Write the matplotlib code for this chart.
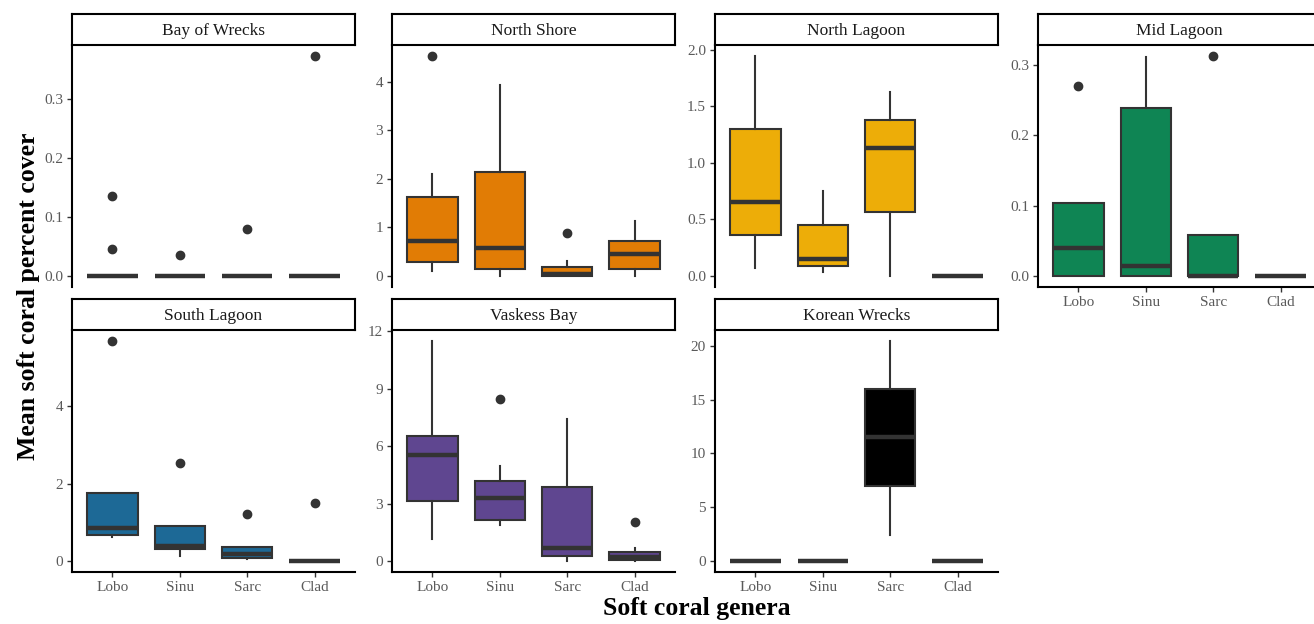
import numpy as np
import matplotlib
matplotlib.use("Agg")
import matplotlib.pyplot as plt

plt.rcParams['font.family'] = ['Liberation Serif', 'DejaVu Serif']

genera = ["Lobo", "Sinu", "Sarc", "Clad"]
sites = ["Bay of Wrecks", "North Shore", "North Lagoon", "Mid Lagoon",
         "South Lagoon", "Vaskess Bay", "Korean Wrecks"]
site_colors = ["#CC503E", "#E17C05", "#EDAD08", "#0F8554",
               "#1D6996", "#5F4690", "#000000"]

# box statistics: one row per site, one column per genus
q1 = [[0, 0, 0, 0],
      [0.28, 0.14, 0.0, 0.14],
      [0.36, 0.087, 0.567, 0],
      [0, 0, 0, 0],
      [0.68, 0.32, 0.087, 0],
      [3.12, 2.15, 0.26, 0.04],
      [0, 0, 6.96, 0]]
median = [[0, 0, 0, 0],
          [0.73, 0.57, 0.04, 0.45],
          [0.657, 0.147, 1.134, 0],
          [0.040, 0.0144, 0, 0],
          [0.84, 0.39, 0.17, 0],
          [5.52, 3.30, 0.67, 0.23],
          [0, 0, 11.5, 0]]
q3 = [[0, 0, 0, 0],
      [1.63, 2.15, 0.19, 0.73],
      [1.30, 0.45, 1.38, 0],
      [0.104, 0.239, 0.0584, 0],
      [1.76, 0.91, 0.365, 0],
      [6.52, 4.18, 3.88, 0.49],
      [0, 0, 15.99, 0]]
whisker_low = [[0, 0, 0, 0],
               [0.10, 0.0, 0.0, 0.01],
               [0.07, 0.036, 0.0, 0],
               [0, 0, 0, 0],
               [0.63, 0.13, 0.06, 0],
               [1.15, 1.89, 0.0, 0.0],
               [0, 0, 2.45, 0]]
whisker_high = [[0, 0, 0, 0],
                [2.09, 3.93, 0.30, 1.13],
                [1.946, 0.75, 1.624, 0],
                [0.104, 0.312, 0.0584, 0],
                [1.76, 0.91, 0.365, 0],
                [11.5, 4.94, 7.44, 0.70],
                [0, 0, 20.45, 0]]
outliers = [[[0.136, 0.045], [0.035], [0.08], [0.373]],
            [[4.53], [], [0.89], []],
            [[], [], [], []],
            [[0.27], [], [0.313], []],
            [[5.68], [2.52], [1.22], [1.50]],
            [[], [8.47], [], [2.06]],
            [[], [], [], []]]
y_ticks = [[0, 0.1, 0.2, 0.3],
           [0, 1, 2, 3, 4],
           [0, 0.5, 1.0, 1.5, 2.0],
           [0, 0.1, 0.2, 0.3],
           [0, 2, 4],
           [0, 3, 6, 9, 12],
           [0, 5, 10, 15, 20]]
y_decimals = [1, 0, 1, 1, 0, 0, 0]

W, H = 1314, 624
fig = plt.figure(figsize=(W / 100, H / 100), dpi=100)

col_left = [72, 392, 715, 1038]
panel_w = 283
panel_h = 242
row_top = [45, 330]
strip_h = 31
line_c = "#333333"
tick_c = "#5a5a5a"

for i, site in enumerate(sites):
    row, col = divmod(i, 4)
    x0 = col_left[col]
    top = row_top[row]
    ax = fig.add_axes([x0 / W, 1 - (top + panel_h) / H, panel_w / W, panel_h / H])

    stats = []
    for j in range(4):
        stats.append(dict(med=median[i][j], q1=q1[i][j], q3=q3[i][j],
                          whislo=whisker_low[i][j], whishi=whisker_high[i][j],
                          fliers=outliers[i][j]))
    ax.bxp(stats, positions=[1, 2, 3, 4], widths=0.75, patch_artist=True,
           showcaps=False,
           boxprops=dict(facecolor=site_colors[i], edgecolor=line_c, linewidth=1.5),
           medianprops=dict(color=line_c, linewidth=3.2, solid_capstyle="butt"),
           whiskerprops=dict(color=line_c, linewidth=1.5),
           flierprops=dict(marker="o", markerfacecolor=line_c,
                           markeredgecolor=line_c, markersize=6))

    vals = [v for j in range(4) for v in [whisker_low[i][j], whisker_high[i][j]] + outliers[i][j]]
    lo, hi = min(vals), max(vals)
    pad = (hi - lo) * 0.05
    ax.set_ylim(lo - pad, hi + pad)
    ax.set_xlim(0.4, 4.6)

    ax.set_yticks(y_ticks[i])
    ax.set_yticklabels([f"{v:.{y_decimals[i]}f}" for v in y_ticks[i]])
    ax.tick_params(axis="y", length=3.5, width=1.0, color=line_c,
                   labelsize=11, labelcolor=tick_c, pad=3)

    for s in ["top", "right"]:
        ax.spines[s].set_visible(False)
    ax.spines["left"].set_linewidth(1.5)
    ax.spines["left"].set_color("black")

    has_x_axis = row == 1 or col == 3
    if has_x_axis:
        ax.set_xticks([1, 2, 3, 4])
        ax.set_xticklabels(genera)
        ax.spines["bottom"].set_linewidth(1.5)
        ax.spines["bottom"].set_color("black")
        ax.tick_params(axis="x", length=3.5, width=1.0, color=line_c,
                       labelsize=11, labelcolor=tick_c, pad=3)
    else:
        ax.spines["bottom"].set_visible(False)
        ax.set_xticks([])

    # facet strip
    sax = fig.add_axes([x0 / W, 1 - top / H, panel_w / W, strip_h / H])
    sax.set_xticks([])
    sax.set_yticks([])
    for s in sax.spines.values():
        s.set_linewidth(1.5)
        s.set_color("black")
    sax.text(0.5, 0.45, site, ha="center", va="center", fontsize=12.5,
             color="#1a1a1a", transform=sax.transAxes)

fig.text(697 / W, 1 - 608 / H, "Soft coral genera", ha="center", va="center",
         fontsize=18.5, fontweight="bold")
fig.text(29 / W, 1 - 296 / H, "Mean soft coral percent cover", ha="center",
         va="center", rotation=90, fontsize=18.5, fontweight="bold")

fig.savefig("out.png", dpi=100)
